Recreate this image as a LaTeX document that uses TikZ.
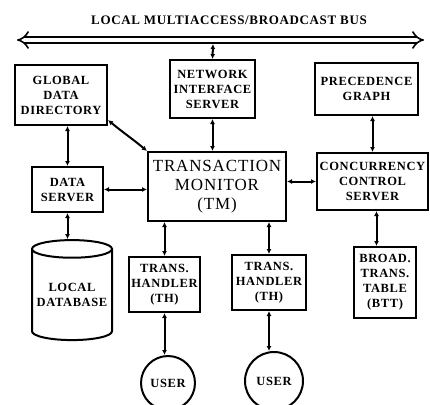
\documentclass[tikz,border=0pt]{standalone}
\usepackage{fontspec}
\setmainfont[LetterSpace=5]{Liberation Serif}
\usetikzlibrary{shapes.geometric, arrows.meta}

\begin{document}
\begin{tikzpicture}[
        x=1pt, y=-1pt,
        thick,
        block/.style={rectangle, draw, line width=2pt, align=center, inner sep=0pt, font=\bfseries\fontsize{12.5}{15}\selectfont},
        line/.style={draw, line width=2pt, {Latex[length=5pt,width=5pt]}-{Latex[length=5pt,width=5pt]}}
    ]
        \useasboundingbox (0,0) rectangle (430,404);

        % Bus
        \coordinate (busl) at (17,40);
        \coordinate (busr) at (424,40);
        \coordinate (bustap) at (213,44);
        \draw [double, double distance=4.5pt, line width=1.6pt, {Implies}-{Implies}] (busl) -- (busr);
        \node [font=\bfseries\fontsize{13}{15}\selectfont] (bus) at (229,20) {LOCAL MULTIACCESS/BROADCAST BUS};

        % Nodes
        \node [block, minimum width=92pt, minimum height=60pt] (gdd) at (61,95) {GLOBAL\\DATA\\DIRECTORY};
        \node [block, minimum width=85pt, minimum height=58pt] (nis) at (212.5,89) {NETWORK\\INTERFACE\\SERVER};
        \node [block, minimum width=103pt, minimum height=52pt] (pg) at (366.5,89) {PRECEDENCE\\GRAPH};
        \node [block, minimum width=138pt, minimum height=69pt, font=\fontsize{17}{19}\selectfont] (tm) at (217,186.5) {TRANSACTION\\MONITOR\\(TM)};
        \node [block, minimum width=71pt, minimum height=45pt] (ds) at (67.5,189.5) {DATA\\SERVER};
        \node [block, minimum width=111pt, minimum height=57pt] (ccs) at (372.5,181.5) {CONCURRENCY\\CONTROL\\SERVER};
        \node [block, minimum width=62pt, minimum height=71pt] (btt) at (385,282.5) {BROAD.\\TRANS.\\TABLE\\(BTT)};
        \node [block, minimum width=71pt, minimum height=55pt] (th1) at (164.5,284.5) {TRANS.\\HANDLER\\(TH)};
        \node [block, minimum width=74pt, minimum height=55pt] (th2) at (269,282.5) {TRANS.\\HANDLER\\(TH)};
        \node [block, circle, minimum size=54pt] (user1) at (168,383) {USER};
        \node [block, circle, minimum size=58pt] (user2) at (274,381) {USER};
        \node [block, cylinder, shape border rotate=90, aspect=0.25, minimum width=80pt, minimum height=100pt] (db) at (72,295) {LOCAL\\DATABASE};

        % Edges
        \path [line] (bustap) -- (nis.north);
        \path [line] (nis.south) -- (nis.south |- tm.north);
        \path [line] (ds.north |- gdd.south) -- (ds.north);
        \path [line] ([yshift=6pt]gdd.south east) to [out=-40, in=140] (tm.north west);
        \path [line] (ds.east) -- (ds.east -| tm.west);
        \path [line] (ccs.west -| tm.east) -- (ccs.west);
        \path [line] (ccs.north |- pg.south) -- (ccs.north);
        \path [line] ([xshift=4pt]ccs.south) -- ([xshift=4pt]ccs.south |- btt.north);
        \path [line] (ds.south) -- (ds.south |- db.north);
        \path [line] (th1.north |- tm.south) -- (th1.north);
        \path [line] (th2.north |- tm.south) -- (th2.north);
        \path [line] (th1.south) -- (th1.south |- user1.north);
        \path [line] (th2.south) -- (th2.south |- user2.north);
    \end{tikzpicture}
\end{document}
